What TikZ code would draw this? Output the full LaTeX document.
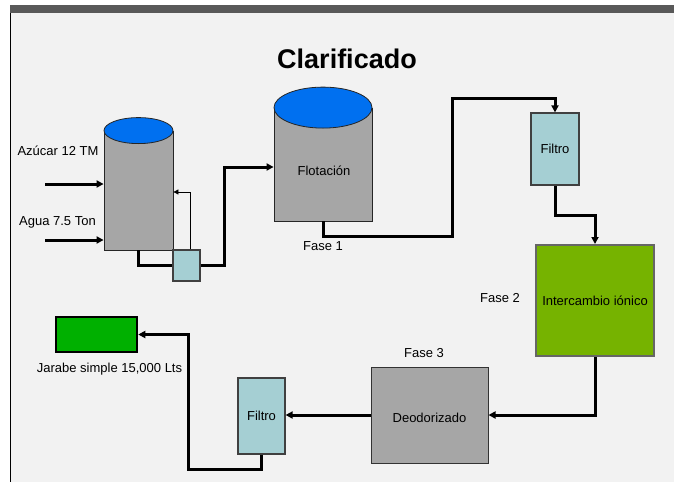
\documentclass[tikz,border=0pt]{standalone}
\usepackage{fontspec}
\setmainfont{Liberation Sans}
\usepackage{tikz}
\usetikzlibrary{arrows.meta}

\definecolor{fondo}{RGB}{242,242,242}
\definecolor{barra}{RGB}{89,89,89}
\definecolor{tanque}{RGB}{166,166,166}
\definecolor{tapa}{RGB}{0,112,240}
\definecolor{filtro}{RGB}{165,207,211}
\definecolor{resina}{RGB}{118,179,0}
\definecolor{jarabe}{RGB}{0,176,0}

\begin{document}
\begin{tikzpicture}[x=1pt, y=-1pt, >={Triangle[length=7pt,width=7pt]}, font=\fontsize{13}{15}\selectfont]
\tikzstyle{tank}=[draw=black!85, fill=tanque, line width=0.8pt, inner sep=0pt]
\tikzstyle{tapa}=[draw=black!85, fill=tapa, line width=0.8pt]
\tikzstyle{caja}=[draw=black!75, fill=filtro, line width=1.2pt, inner sep=0pt]
\tikzstyle{pipe}=[line width=3pt]
\tikzstyle{etiqueta}=[anchor=base, inner sep=0pt]

% fondo
\useasboundingbox (0,0) rectangle (674,482);
\fill[white] (0,0) rectangle (674,482);
\fill[fondo] (11,13) rectangle (674,482);
\fill[barra] (10,5) rectangle (674,13);
\draw[line width=1.3pt] (10.5,13) -- (10.5,482);

\node[etiqueta, font=\bfseries\fontsize{27}{30}\selectfont] (titulo) at (347,68.8) {Clarificado};

% tanques
\node[tank, minimum width=69, minimum height=119]  (T1) at (138.5,190.5) {};
\draw[tapa] (T1.north) ellipse [x radius=34.5pt, y radius=13pt];
\node[tank, minimum width=98, minimum height=113]  (FL) at (323,164.5) {};
\draw[tapa] (FL.north) ellipse [x radius=49pt, y radius=20.5pt];

% cajas
\node[caja, minimum width=27, minimum height=31]   (F1) at (186.5,265.5) {};
\node[caja, minimum width=48, minimum height=72]   (FT) at (555,149) {Filtro};
\node[caja, draw=black!60, line width=2pt, fill=resina, minimum width=118, minimum height=111] (IX) at (595,300.5) {Intercambio iónico};
\node[caja, draw=black!80, line width=1pt, fill=tanque, minimum width=117, minimum height=96, text height=16pt] (DE) at (429.5,415) {Deodorizado};
\node[caja, minimum width=47, minimum height=76]   (F2) at (261.5,416) {Filtro};
\node[caja, draw=black, line width=2.5pt, fill=jarabe, minimum width=81, minimum height=35] (JS) at (96.5,334.5) {};

% etiquetas
\node[etiqueta] (azucar) at (58,155)     {Azúcar 12 TM};
\node[etiqueta] (agua)   at (57.5,225)   {Agua 7.5 Ton};
\node[etiqueta] (flot)   at (324,175)    {Flotación};
\node[etiqueta] (fase1)  at (323,250.5)  {Fase 1};
\node[etiqueta] (fase2)  at (500,302)    {Fase 2};
\node[etiqueta] (fase3)  at (424,357.5)  {Fase 3};
\node[etiqueta] (salida) at (109.5,372.5) {Jarabe simple 15,000 Lts};

\coordinate (az) at (45,184);
\coordinate (ag) at (45,240);

% tuberias
\draw[pipe, ->] (az) -- (az -| T1.west);
\draw[pipe, ->] (ag) -- (ag -| T1.west);
\draw[pipe] (T1.south) |- (F1.west);
\draw[->, line width=0.8pt, >={Triangle[length=5pt,width=5pt]}] ([xshift=3.5pt]F1.north) |- ([yshift=-1.5pt]T1.east);
\draw[pipe, ->] (F1.east) -- ++(24,0) |- ([yshift=-2.5pt]FL.west);
\draw[pipe, ->] (FL.south) -- ++(0,15) -| ++(129,-138) -| (FT.north);
\draw[pipe, ->] (FT.south) -- ++(0,30) -| (IX.north);
\draw[pipe, ->] (IX.south) |- (DE.east);
\draw[pipe, ->] (DE.west) -- (DE.west -| F2.east);
\draw[pipe, ->] (F2.south) -- ++(0,15) -| ([xshift=50pt]JS.east) -- (JS.east);

\end{tikzpicture}
\end{document}
